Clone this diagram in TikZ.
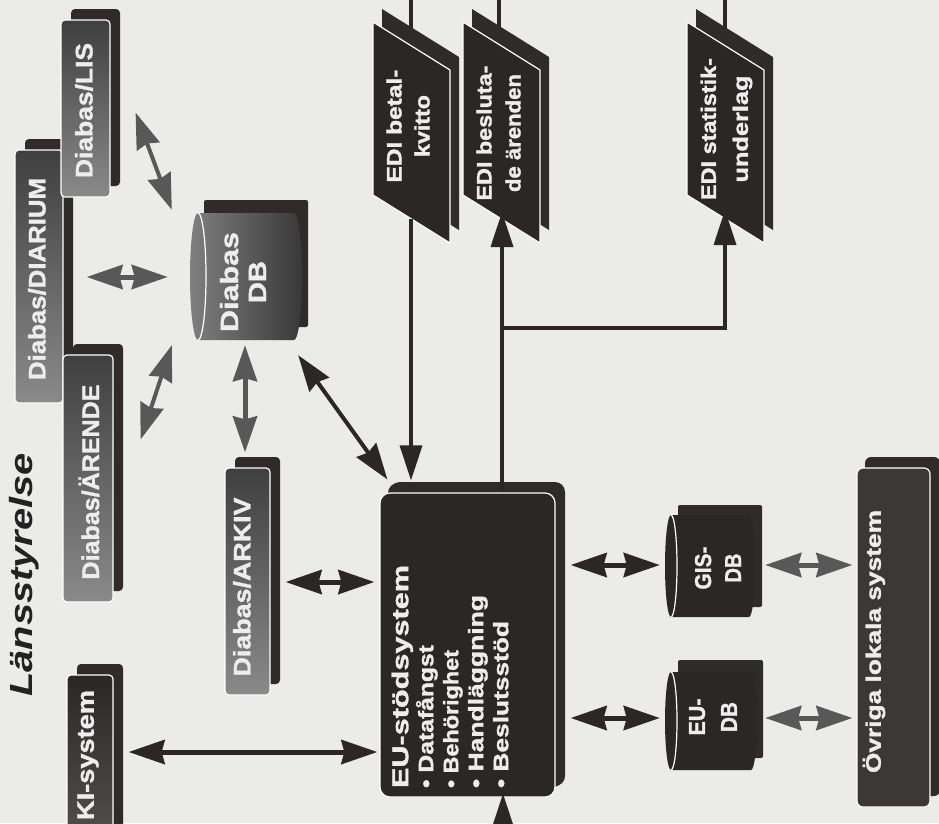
\documentclass[tikz,border=0pt]{standalone}
\usepackage{fontspec}
\usepackage{graphicx}
\setmainfont{Liberation Sans}[BoldFeatures={FakeBold=1.3}]
\usetikzlibrary{arrows.meta,shadows}
\definecolor{bgcol}{HTML}{EBEBE9}
\definecolor{boxdark}{HTML}{2B2727}
\definecolor{shcol}{HTML}{2F2B2B}
\definecolor{graytop}{HTML}{3F3F3F}
\definecolor{graybot}{HTML}{8A8A8A}
\definecolor{txtlight}{HTML}{EDEDED}
\definecolor{arrdark}{HTML}{2B2727}
\definecolor{arrgray}{HTML}{585858}
\definecolor{titlecol}{HTML}{222222}
\newcommand\fitw[2]{\resizebox{#1}{\height}{#2}}
\newcommand\ediplate[1]{%
  \fill[shcol] ({#1+9},9) -- ({#1+86},57) -- ({#1+86},230) -- ({#1+9},182) -- cycle;
  \filldraw[fill=boxdark, draw=white, line width=1.2pt] (#1,22) -- ({#1+77},70) -- ({#1+77},243) -- (#1,195) -- cycle;}
\newcommand\dbcyl[6]{% a, b, top, bottom, rx, options
  \pgfmathsetmacro\cylry{(#4-#3)/2}%
  \path[#6] (#1,#3) -- (#2,#3) arc[start angle=-90,end angle=90,x radius=#5,y radius=\cylry]
     -- (#1,#4) arc[start angle=90,end angle=270,x radius=#5,y radius=\cylry] -- cycle;
  \draw[white, line width=1.2pt] (#1,#3) arc[start angle=-90,end angle=90,x radius=#5,y radius=\cylry];}
\begin{document}
\begin{tikzpicture}[x=1pt,y=-1pt,
  graybox/.style={rectangle, rounded corners=4pt, draw=white, line width=1.2pt,
     top color=graytop, bottom color=graybot, inner sep=0pt,
     general shadow={fill=shcol, shadow xshift=10pt, shadow yshift=11pt}},
  darkbox/.style={rectangle, rounded corners=4pt, draw=white, line width=1.2pt,
     fill=boxdark, inner sep=0pt,
     general shadow={fill=shcol, shadow xshift=10pt, shadow yshift=11pt}},
  slot/.style={rectangle, inner sep=0pt},
  lbl/.style={rotate=90, inner sep=0pt, text=txtlight},
  dbl/.style={draw=arrdark, line width=5pt,
     {Stealth[length=36pt,width=24pt,inset=3pt]}-{Stealth[length=36pt,width=24pt,inset=3pt]}},
  dblg/.style={dbl, draw=arrgray},
  sgl/.style={draw=arrdark, line width=3.5pt, -{Triangle[length=35pt,width=22pt]}},
  ln/.style={draw=arrdark, line width=3.5pt}]
\useasboundingbox (0,0) rectangle (939,823);
\clip (0,0) rectangle (939,823);
\fill[bgcol] (0,0) rectangle (939,823);

% title
\node[rotate=90, inner sep=0pt, text=titlecol, font=\fontsize{32}{36}\selectfont\bfseries\itshape] (title) at (24,575) {\fitw{243pt}{Länsstyrelse}};

% lines leaving the picture at the top
\coordinate (t1) at (411,-5); \coordinate (e1top) at (411,40);
\coordinate (t2) at (499,-5); \coordinate (e2top) at (499,40);
\coordinate (t3) at (725,-5); \coordinate (e3top) at (725,40);
\draw[ln] (t1) -- (e1top);
\draw[ln] (t2) -- (e2top);
\draw[ln] (t3) -- (e3top);

% EDI plates
\ediplate{373}
\ediplate{463}
\ediplate{687}
\coordinate (e1bot) at (411,219);
\coordinate (e2bot) at (502,219);
\coordinate (e3bot) at (725,219);
\node[lbl, align=center, font=\fontsize{21}{28}\selectfont\bfseries] (edi1) at (408,126) {\fitw{113pt}{EDI betal-}\\\fitw{62pt}{kvitto}};
\node[lbl, align=center, font=\fontsize{21}{29}\selectfont\bfseries] (edi2) at (498.5,133) {\fitw{135pt}{EDI besluta-}\\\fitw{118pt}{de ärenden}};
\node[lbl, align=center, font=\fontsize{21}{32}\selectfont\bfseries] (edi3) at (726.5,129) {\fitw{142pt}{EDI statistik-}\\\fitw{107pt}{underlag}};

% Diabas boxes
\node[graybox, minimum width=48pt, minimum height=253pt] (diar) at (39,276.5) {};
\node[graybox, minimum width=49pt, minimum height=177pt] (lis) at (85.5,108.5) {};
\node[graybox, minimum width=50pt, minimum height=247pt] (aren) at (88,478.5) {};
\node[graybox, minimum width=45pt, minimum height=227pt] (arkiv) at (247.5,581.5) {};
\node[lbl, font=\fontsize{24}{28}\selectfont\bfseries] (diarT) at (37,279) {\fitw{202pt}{Diabas/DIARIUM}};
\node[lbl, font=\fontsize{24}{28}\selectfont\bfseries] (lisT) at (84,110.5) {\fitw{135pt}{Diabas/LIS}};
\node[lbl, font=\fontsize{24}{28}\selectfont\bfseries] (arenT) at (89,482) {\fitw{195pt}{Diabas/ÄRENDE}};
\node[lbl, font=\fontsize{24}{28}\selectfont\bfseries] (arkivT) at (242,587) {\fitw{179pt}{Diabas/ARKIV}};

% KI-system
\node[darkbox, top color=boxdark, bottom color=boxdark!75!white, minimum width=46pt, minimum height=225pt] (ki) at (90,787.5) {};
\node[lbl, font=\fontsize{24}{28}\selectfont\bfseries] (kiT) at (88,755) {\fitw{130pt}{KI-system}};

% EU-stodsystem
\node[darkbox, rounded corners=10pt, minimum width=175pt, minimum height=304pt,
      general shadow={fill=shcol, shadow xshift=8pt, shadow yshift=10pt}] (eu) at (467.5,645) {};
\node[lbl, align=left, font=\fontsize{21}{25}\selectfont\bfseries] (euT) at (450,676.5)
  {\fitw{223pt}{\fontsize{23}{25}\selectfont EU-stödsystem}\\
   \fitw{143pt}{• Datafångst}\\
   \fitw{138pt}{• Behörighet}\\
   \fitw{193pt}{• Handläggning}\\
   \fitw{167pt}{• Beslutsstöd}};

% Ovriga lokala system
\node[darkbox, rounded corners=6pt, fill=boxdark!92!white, minimum width=73pt, minimum height=339pt,
      general shadow={fill=shcol, shadow xshift=8pt, shadow yshift=11pt}] (ovr) at (893.5,637.5) {};
\node[lbl, font=\fontsize{21}{25}\selectfont\bfseries] (ovrT) at (874,641.5) {\fitw{263pt}{Övriga lokala system}};

% databases
\fill[shcol, rounded corners=2pt] (204,200) rectangle (308,327);
\dbcyl{198}{294}{213}{340}{8}{left color=black!50!white, right color=black!78!white}
\fill[shcol, rounded corners=2pt] (678,505) rectangle (762,607);
\dbcyl{671}{749}{515}{617}{6}{fill=boxdark}
\fill[shcol, rounded corners=2pt] (678,660) rectangle (763,758);
\dbcyl{671}{751}{672}{770}{6}{fill=boxdark}
\node[slot, minimum width=112pt, minimum height=127pt] (dbd) at (246,276.5) {};
\node[slot, minimum width=90pt, minimum height=102pt] (gis) at (710,566) {};
\node[slot, minimum width=92pt, minimum height=98pt] (eudb) at (711,721) {};
\node[lbl, align=center, font=\fontsize{25}{28}\selectfont\bfseries] (dbdT) at (243,282) {\fitw{100pt}{Diabas}\\\fitw{42pt}{DB}};
\node[lbl, align=center, font=\fontsize{23}{30}\selectfont\bfseries] (gisT) at (718,568) {\fitw{43pt}{GIS-}\\\fitw{29pt}{DB}};
\node[lbl, align=center, font=\fontsize{23}{32}\selectfont\bfseries] (eudbT) at (713,717) {\fitw{37pt}{EU-}\\\fitw{30pt}{DB}};

% double arrows
\draw[dbl, shorten <=15pt, shorten >=2pt] (ki.east |- 0,752) -- (eu.west |- 0,752);
\draw[dbl, shorten <=15pt, shorten >=5pt] (arkiv.east |- 0,582) -- (eu.west |- 0,582);
\draw[dblg, shorten <=5pt, shorten >=15pt] (dbd.south -| 245,0) -- (arkiv.north -| 245,0);
\draw[dbl, line width=4pt] ([xshift=-4pt,yshift=-15pt]dbd.south east) -- ([xshift=8pt,yshift=13pt]eu.north west);
\draw[dblg, shorten <=23pt, shorten >=22pt] (diar.east |- 0,277) -- (dbd.west |- 0,277);
\draw[dblg, line width=4pt] ([xshift=-18pt,yshift=3pt]dbd.north west) -- ([xshift=25pt,yshift=85pt]lis.south east);
\draw[dblg, line width=4pt] ([xshift=-18pt,yshift=-5pt]dbd.south west) -- ([xshift=27pt,yshift=-85pt]aren.north east);
\draw[dbl, shorten <=15pt, shorten >=5pt] (eu.east |- 0,565) -- (gis.west |- 0,565);
\draw[dbl, shorten <=15pt, shorten >=5pt] (eu.east |- 0,718) -- (eudb.west |- 0,718);
\draw[dblg, shorten <=10pt, shorten >=4pt] (gis.east |- 0,565) -- (ovr.west |- 0,565);
\draw[dblg, shorten <=8pt, shorten >=4pt] (eudb.east |- 0,718) -- (ovr.west |- 0,718);

% single arrows
\draw[sgl, shorten >=12pt] (e1bot) -- (eu.north -| e1bot);
\draw[sgl, shorten >=-7pt] (eu.north -| e2bot) -- (e2bot);
\coordinate (jn) at (502,328);
\draw[sgl, shorten >=-9pt] (jn) -| (e3bot);
\coordinate (eubot) at (503,880);
\draw[sgl, shorten >=-4pt] (eubot) -- (eu.south -| eubot);
\end{tikzpicture}
\end{document}
